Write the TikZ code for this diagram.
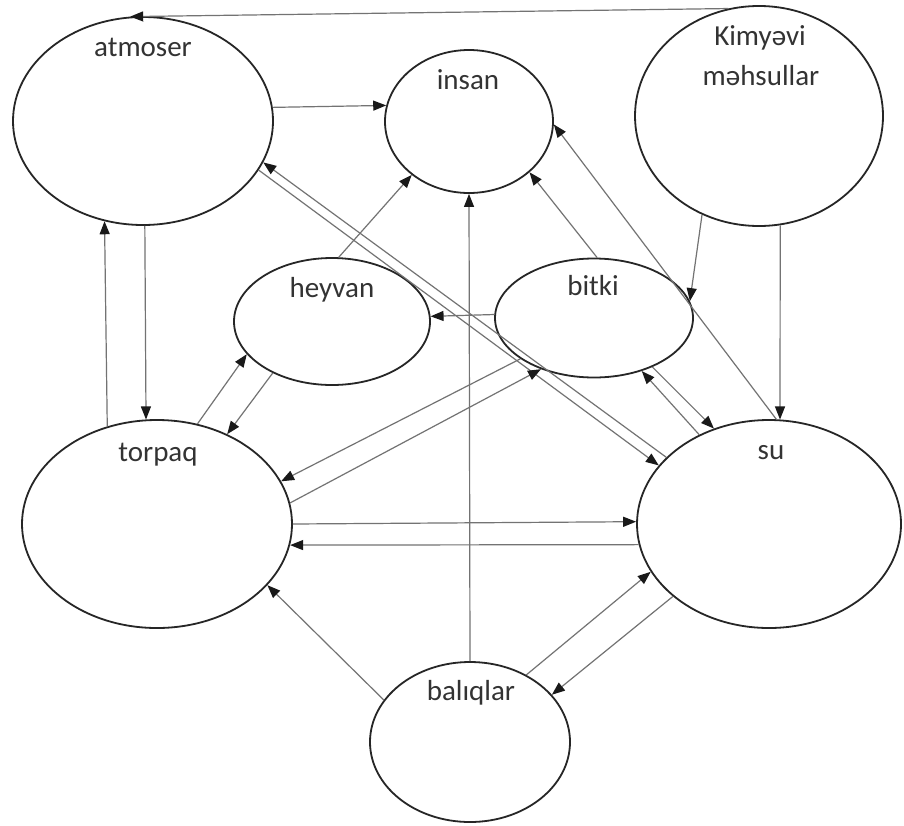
\documentclass[tikz,border=0pt]{standalone}
\usepackage{fontspec}
\setmainfont{Carlito}
\usetikzlibrary{arrows.meta,shapes.geometric}
\begin{document}
\begin{tikzpicture}[x=1pt,y=-1pt,
  blob/.style={ellipse, draw=black!85, line width=1.8pt, inner sep=0pt},
  lbl/.style={font=\fontsize{29}{32}\selectfont, text=black!80, inner sep=0pt, anchor=base},
  con/.style={draw=black!55, line width=1.2pt, -{Triangle[length=13pt,width=10pt,color=black!90]}},
]
\fill[white] (0,0) rectangle (904,825);
\useasboundingbox (0,0) rectangle (904,825);

% ellipses
\node[blob, minimum width=260pt, minimum height=208pt] (atm) at (143,121) {};
\node[blob, minimum width=168pt, minimum height=143pt] (insan) at (469,121.5) {};
\node[blob, minimum width=248pt, minimum height=220pt] (kim) at (759,116) {};
\node[blob, minimum width=196pt, minimum height=127pt] (heyvan) at (332,321.5) {};
\node[blob, minimum width=198pt, minimum height=119pt] (bitki) at (594,318) {};
\node[blob, minimum width=270pt, minimum height=208pt] (torpaq) at (157,524) {};
\node[blob, minimum width=264pt, minimum height=208pt] (su) at (769,524) {};
\node[blob, minimum width=200pt, minimum height=160pt] (balik) at (470,742) {};

% labels
\node[lbl] (atmT) at (143,56) {atmoser};
\node[lbl] (insanT) at (468,89) {insan};
\node[lbl] (kimT1) at (760,45) {Kimyəvi};
\node[lbl] (kimT2) at (761,85) {məhsullar};
\node[lbl] (heyvanT) at (332,297) {heyvan};
\node[lbl] (bitkiT) at (593,295) {bitki};
\node[lbl] (torpaqT) at (158,461) {torpaq};
\node[lbl] (suT) at (771,459) {su};
\node[lbl] (balikT) at (471,700) {balıqlar};

% connectors
\draw[con] (kim.106.4) -- (atm.97);
\draw[con] (atm.6.6) -- (insan.169.3);
\draw[con] (atm.-23.4) -- (su.152);
\draw[con] (su.147) -- (atm.-19.1);
\draw[con] (heyvan.84.6) -- (insan.223.4);
\draw[con] (balik.90) -- (insan.270);
\draw[con] (bitki.87) -- (insan.-40.4);
\draw[con] (su.86.2) -- (insan.-2);
\draw[con] (kim.240.9) -- (bitki.10.3);
\draw[con] (kim.-79.6) -- (su.84.5);
\draw[con] (atm.-89.1) -- (torpaq.96.6);
\draw[con] (torpaq.117.9) -- (atm.249.6);
\draw[con] (bitki.178.8) -- (heyvan.3.5);
\draw[con] (torpaq.68.4) -- (heyvan.201.5);
\draw[con] (heyvan.221.4) -- (torpaq.52.7);
\draw[con] (bitki.209.4) -- (torpaq.19.3);
\draw[con] (torpaq.9.3) -- (bitki.224.5);
\draw[con] (torpaq.0.85) -- (su.179.1);
\draw[con] (su.189.7) -- (torpaq.-9.5);
\draw[con] (bitki.-40.4) -- (su.120);
\draw[con] (su.128.9) -- (bitki.-48.3);
\draw[con] (balik.154.5) -- (torpaq.-29.9);
\draw[con] (balik.50.8) -- (su.202.7);
\draw[con] (su.217) -- (balik.30.5);
\end{tikzpicture}
\end{document}
